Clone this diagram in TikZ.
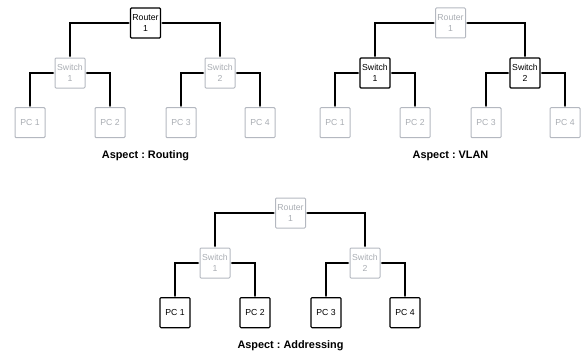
\documentclass[tikz,border=0pt]{standalone}
\usepackage{fontspec}
\setmainfont{Liberation Sans}
\usetikzlibrary{arrows.meta}
\frenchspacing
\definecolor{dimline}{HTML}{B4B8C0}
\definecolor{dimtext}{HTML}{A9ADB3}
\tikzset{
  box/.style={draw, rounded corners=1pt, minimum width=30pt, minimum height=30pt,
    inner sep=0pt, align=center, font=\fontsize{8.7}{11}\selectfont},
  on/.style={box, draw=black, line width=1.1pt, text=black},
  off/.style={box, draw=dimline, line width=1pt, text=dimtext},
  wire/.style={draw=black, line width=1.3pt,
    {Latex[length=2pt,width=2.2pt]}-{Latex[length=2pt,width=2.2pt]}},
  caption/.style={anchor=base, font=\bfseries\fontsize{10.9}{12}\selectfont}
}
% #1 shift x, #2 shift y, #3 router style, #4 switch style, #5 pc style, #6 caption, #7 prefix
\newcommand\nettree[7]{%
  \begin{scope}[shift={(#1,#2)}, name prefix=#7-]
    \node[#3] (r) at (145.5,23) {Router\\1};
    \node[#4] (s1) at (70,73) {Switch\\1};
    \node[#4] (s2) at (220,73) {Switch\\2};
    \node[#5] (p1) at (30,122.7) {PC 1};
    \node[#5] (p2) at (110,122.7) {PC 2};
    \node[#5] (p3) at (181,122.7) {PC 3};
    \node[#5] (p4) at (260,122.7) {PC 4};
    \node[caption] (cap) at (145.5,158) {#6};
    \draw[wire] (r.west) -| (s1.north);
    \draw[wire] (r.east) -| (s2.north);
    \draw[wire] (s1.west) -| (p1.north);
    \draw[wire] (s1.east) -| (p2.north);
    \draw[wire] (s2.west) -| (p3.north);
    \draw[wire] (s2.east) -| (p4.north);
  \end{scope}%
}
\begin{document}
\begin{tikzpicture}[x=1pt, y=-1pt]
  \useasboundingbox (0,0) rectangle (585,353);
  \nettree{0}{0}{on}{off}{off}{Aspect : Routing}{a}
  \nettree{305}{0}{off}{on}{off}{Aspect : VLAN}{b}
  \nettree{145}{190}{off}{off}{on}{Aspect : Addressing}{c}
\end{tikzpicture}
\end{document}
